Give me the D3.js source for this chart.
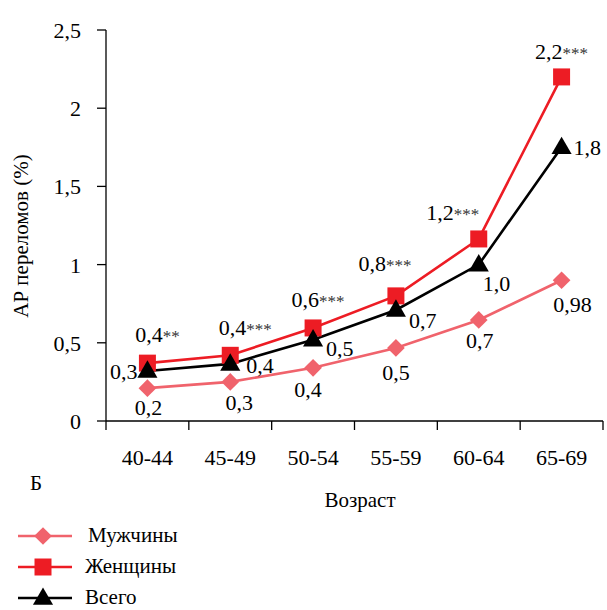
<!DOCTYPE html>
<html>
<head>
<meta charset="utf-8">
<script src="https://cdn.jsdelivr.net/npm/d3@7"></script>
</head>
<body style="margin:0">
<div id="chart"></div>
<script>
// data
var ageGroups = ["40-44", "45-49", "50-54", "55-59", "60-64", "65-69"];
var menValues = [0.21, 0.25, 0.34, 0.467, 0.646, 0.90];
var womenValues = [0.37, 0.42, 0.595, 0.80, 1.164, 2.2];
var totalValues = [0.32, 0.365, 0.52, 0.71, 1.0, 1.75];
var menLabels = ["0,2", "0,3", "0,4", "0,5", "0,7", "0,98"];
var womenLabels = ["0,4", "0,4", "0,6", "0,8", "1,2", "2,2"];
var womenStars = ["**", "***", "***", "***", "***", "***"];
var totalLabels = ["0,3", "0,4", "0,5", "0,7", "1,0", "1,8"];
var yTicks = [0, 0.5, 1, 1.5, 2, 2.5];

// label placement (offsets from the point, px)
var womenLabelDx = [10, 15, 5, -11, -26, 0];
var womenLabelDy = [-21, -20, -21, -25, -19, -18];
var menLabelDx = [1, 9, -5, 0, 1, 11];
var menLabelDy = [27, 28, 29, 32, 28, 32];
var totalLabelDx = [-10, 16, 13, 13, 4, 12];
var totalLabelDy = [8, 9, 16, 18, 26, 8];
var totalAnchor = ["end", "start", "start", "start", "start", "start"];

var W = 607, H = 610;
var menColor = "#f0636c", womenColor = "#ed1c24", totalColor = "#000000";

var svg = d3.select("#chart").append("svg")
    .attr("width", W)
    .attr("height", H);

var x = d3.scaleBand()
    .domain(ageGroups)
    .range([106, 603]);
var y = d3.scaleLinear()
    .domain([0, 2.5])
    .range([421, 30]);
var cx = function(d, i) { return x(ageGroups[i]) + x.bandwidth() / 2; };

function label(sel, size) {
    return sel.attr("font-family", "Liberation Serif")
        .style("font-family", "'Liberation Serif'")
        .attr("font-size", size || 22);
}

// y axis
var yAxis = svg.append("g").attr("transform", "translate(106,0)");
yAxis.append("line").attr("y1", 421).attr("y2", 30);
yAxis.selectAll(".tk").data(yTicks).enter().append("line")
    .attr("x1", -9).attr("x2", 0)
    .attr("y1", function(d) { return y(d); })
    .attr("y2", function(d) { return y(d); });
label(yAxis.selectAll("text").data(yTicks).enter().append("text")
    .attr("x", -25)
    .attr("y", function(d) { return y(d) + 8; })
    .attr("text-anchor", "end")
    .text(function(d) { return String(d).replace(".", ","); }));

// x axis
var xAxis = svg.append("g").attr("transform", "translate(0,421)");
xAxis.append("line").attr("x1", 106).attr("x2", 603);
xAxis.selectAll(".tk").data(ageGroups.concat(["end"])).enter().append("line")
    .attr("x1", function(d, i) { return 106 + i * x.bandwidth(); })
    .attr("x2", function(d, i) { return 106 + i * x.bandwidth(); })
    .attr("y1", 0).attr("y2", 9);
label(xAxis.selectAll("text").data(ageGroups).enter().append("text")
    .attr("x", function(d) { return x(d) + x.bandwidth() / 2; })
    .attr("y", 44)
    .attr("text-anchor", "middle")
    .text(function(d) { return d; }));
svg.selectAll("g line").attr("stroke", "#000").attr("stroke-width", 1.3);

// axis titles
label(svg.append("text")
    .attr("transform", "translate(28,236) rotate(-90)")
    .attr("text-anchor", "middle")
    .text("АР переломов (%)"), 21);
label(svg.append("text")
    .attr("x", 360).attr("y", 507)
    .attr("text-anchor", "middle")
    .text("Возраст"), 21);
label(svg.append("text")
    .attr("x", 30).attr("y", 490)
    .text("Б"), 21);

// series
var series = [
    {name: "Мужчины", values: menValues, color: menColor, marker: d3.symbolDiamond2, size: 200},
    {name: "Женщины", values: womenValues, color: womenColor, marker: d3.symbolSquare, size: 289},
    {name: "Всего", values: totalValues, color: totalColor, marker: d3.symbolTriangle, size: 175}
];

var line = d3.line()
    .x(function(d, i) { return cx(d, i); })
    .y(function(d) { return y(d); });

series.forEach(function(s) {
    svg.append("path")
        .datum(s.values)
        .attr("d", line)
        .attr("fill", "none")
        .attr("stroke", s.color)
        .attr("stroke-width", 2.6);
});
series.forEach(function(s) {
    svg.append("g").selectAll("path")
        .data(s.values)
        .enter().append("path")
        .attr("d", d3.symbol().type(s.marker).size(s.size))
        .attr("transform", function(d, i) {
            var dy = s.marker === d3.symbolTriangle ? 1 : 0;
            return "translate(" + cx(d, i) + "," + (y(d) + dy) + ")";
        })
        .attr("fill", s.color);
});

// data labels
label(svg.append("g").selectAll("text")
    .data(menValues)
    .enter().append("text")
    .attr("x", function(d, i) { return cx(d, i) + menLabelDx[i]; })
    .attr("y", function(d, i) { return y(d) + menLabelDy[i]; })
    .attr("text-anchor", "middle")
    .text(function(d, i) { return menLabels[i]; }));

var wl = label(svg.append("g").selectAll("text")
    .data(womenValues)
    .enter().append("text")
    .attr("x", function(d, i) { return cx(d, i) + womenLabelDx[i]; })
    .attr("y", function(d, i) { return y(d) + womenLabelDy[i]; })
    .attr("text-anchor", "middle"));
wl.append("tspan").text(function(d, i) { return womenLabels[i]; });
wl.append("tspan").attr("font-size", 17).attr("fill", "#333").text(function(d, i) { return womenStars[i]; });

label(svg.append("g").selectAll("text")
    .data(totalValues)
    .enter().append("text")
    .attr("x", function(d, i) { return cx(d, i) + totalLabelDx[i]; })
    .attr("y", function(d, i) { return y(d) + totalLabelDy[i]; })
    .attr("text-anchor", function(d, i) { return totalAnchor[i]; })
    .text(function(d, i) { return totalLabels[i]; }));

// legend
var legend = svg.append("g").selectAll("g")
    .data(series)
    .enter().append("g")
    .attr("transform", function(d, i) { return "translate(0," + (536 + i * 31) + ")"; });
legend.append("line")
    .attr("x1", 18).attr("x2", 72)
    .attr("stroke", function(d) { return d.color; })
    .attr("stroke-width", 2.6);
legend.append("path")
    .attr("d", function(d) { return d3.symbol().type(d.marker).size(d.size)(); })
    .attr("transform", function(d) { return "translate(43," + (d.marker === d3.symbolTriangle ? 1 : 0) + ")"; })
    .attr("fill", function(d) { return d.color; });
label(legend.append("text")
    .attr("x", function(d, i) { return i === 0 ? 88 : 85; })
    .attr("y", 6)
    .text(function(d) { return d.name; }), 21);
</script>
</body>
</html>
